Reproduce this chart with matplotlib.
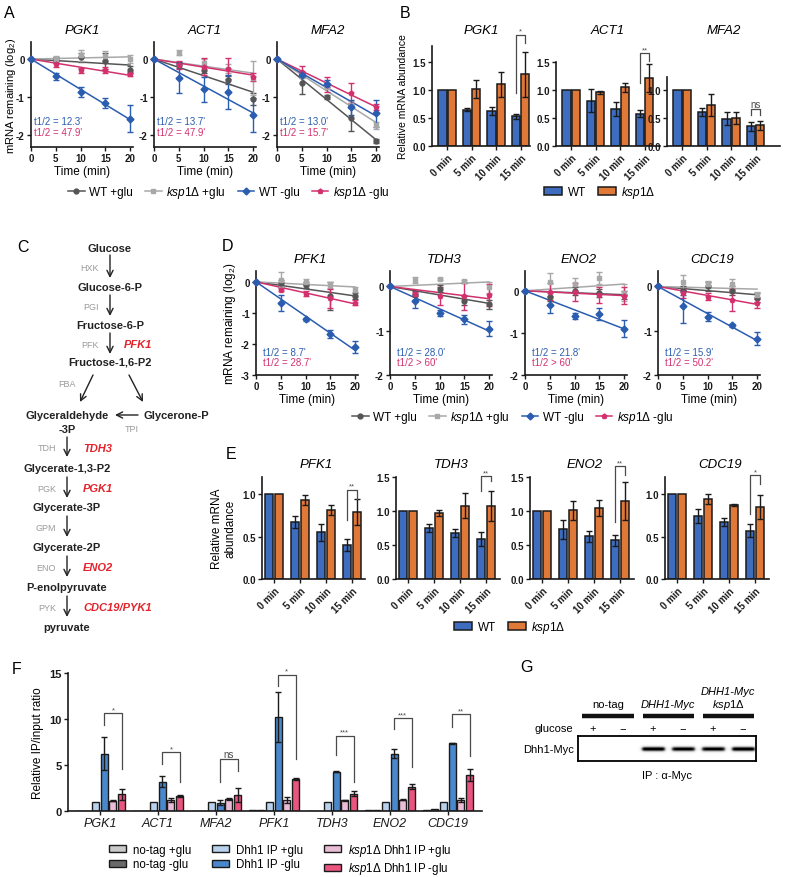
import numpy as np
import matplotlib
matplotlib.use('Agg')
import matplotlib.pyplot as plt
from matplotlib.lines import Line2D
from matplotlib.patches import Patch

plt.rcParams['font.family'] = ['Liberation Sans', 'DejaVu Sans']
plt.rcParams['mathtext.fontset'] = 'custom'
plt.rcParams['mathtext.rm'] = 'Liberation Sans'
plt.rcParams['mathtext.it'] = 'Liberation Sans:italic'
plt.rcParams['mathtext.bf'] = 'Liberation Sans:bold'
plt.rcParams['axes.unicode_minus'] = False

W, H = 790, 878

# ---------------- data ----------------
times = [0, 5, 10, 15, 20]

# A : mRNA decay
a_genes = ['PGK1', 'ACT1', 'MFA2']
a_wt_pos = [[0, -0.02, 0.05, -0.05, -0.28], [0, -0.15, -0.28, -0.55, -1.05], [0, -0.63, -1.0, -1.55, -2.17]]
a_wt_pos_err = [[0, 0.08, 0.12, 0.2, 0.1], [0, 0.08, 0.1, 0.1, 0.15], [0, 0.3, 0.05, 0.35, 0.05]]
a_ko_pos = [[0, 0.0, 0.1, 0.08, 0.0], [0, 0.17, -0.1, -0.25, -0.5], [0, -0.45, -0.75, -1.2, -1.75]]
a_ko_pos_err = [[0, 0.07, 0.15, 0.12, 0.1], [0, 0.06, 0.1, 0.12, 0.45], [0, 0.05, 0.05, 0.1, 0.1]]
a_wt_neg = [[0, -0.46, -0.88, -1.16, -1.57], [0, -0.5, -0.8, -0.88, -1.48], [0, -0.42, -0.65, -1.27, -1.43]]
a_wt_neg_err = [[0, 0.1, 0.13, 0.14, 0.35], [0, 0.4, 0.33, 0.45, 0.45], [0, 0.05, 0.1, 0.2, 0.35]]
a_ko_neg = [[0, -0.13, -0.3, -0.3, -0.4], [0, -0.15, -0.2, -0.25, -0.47], [0, -0.33, -0.68, -0.9, -1.27]]
a_ko_neg_err = [[0, 0.07, 0.07, 0.08, 0.06], [0, 0.1, 0.22, 0.28, 0.1], [0, 0.15, 0.2, 0.27, 0.08]]
a_half_wt = ["= 12.3'", "= 13.7'", "= 13.0'"]
a_half_ko = ["= 47.9'", "= 47.9'", "= 15.7'"]

# B : relative abundance
b_genes = ['PGK1', 'ACT1', 'MFA2']
b_wt = [[1, 0.65, 0.62, 0.53], [1, 0.81, 0.66, 0.58], [1, 0.61, 0.49, 0.35]]
b_wt_err = [[0, 0.03, 0.07, 0.05], [0, 0.2, 0.12, 0.06], [0, 0.07, 0.11, 0.08]]
b_ko = [[1, 1.02, 1.1, 1.28], [1, 0.96, 1.05, 1.21], [1, 0.73, 0.5, 0.37]]
b_ko_err = [[0, 0.16, 0.23, 0.4], [0, 0.03, 0.08, 0.25], [0, 0.19, 0.1, 0.08]]
b_sig = ['*', '**', 'ns']
b_br_top = [1.99, 1.66, 0.66]
b_br_left = [0.95, 1.12, 0.56]
b_br_right = [1.84, 1.51, 0.56]
time_labels = ['0 min', '5 min', '10 min', '15 min']

# D : glycolytic mRNA decay
d_genes = ['PFK1', 'TDH3', 'ENO2', 'CDC19']
d_wt_pos = [[0, -0.05, -0.1, -0.45, -0.45], [0, -0.2, -0.05, -0.32, -0.4], [0, -0.15, 0.0, -0.05, -0.1], [0, -0.1, 0.0, -0.1, -0.25]]
d_wt_pos_err = [[0, 0.1, 0.1, 0.45, 0.1], [0, 0.1, 0.08, 0.1, 0.1], [0, 0.1, 0.1, 0.1, 0.1], [0, 0.1, 0.1, 0.1, 0.1]]
d_ko_pos = [[0, 0.07, 0.0, -0.1, -0.25], [0, 0.15, 0.17, 0.12, -0.02], [0, 0.2, 0.15, 0.3, -0.05], [0, 0.1, 0.05, 0.05, -0.2]]
d_ko_pos_err = [[0, 0.25, 0.1, 0.1, 0.08], [0, 0.07, 0.03, 0.03, 0.12], [0, 0.22, 0.15, 0.15, 0.2], [0, 0.15, 0.08, 0.12, 0.07]]
d_wt_neg = [[0, -0.68, -1.2, -1.68, -2.1], [0, -0.33, -0.6, -0.74, -0.95], [0, -0.33, -0.6, -0.55, -0.9], [0, -0.45, -0.68, -0.88, -1.18]]
d_wt_neg_err = [[0, 0.27, 0.05, 0.14, 0.2], [0, 0.15, 0.06, 0.1, 0.18], [0, 0.2, 0.07, 0.15, 0.2], [0, 0.38, 0.1, 0.03, 0.15]]
d_ko_neg = [[0, -0.25, -0.38, -0.53, -0.68], [0, -0.17, -0.22, -0.22, -0.2], [0, -0.02, -0.03, -0.1, -0.12], [0, -0.15, -0.23, -0.3, -0.38]]
d_ko_neg_err = [[0, 0.05, 0.07, 0.3, 0.08], [0, 0.05, 0.2, 0.3, 0.25], [0, 0.2, 0.22, 0.2, 0.2], [0, 0.1, 0.08, 0.25, 0.1]]
d_half_wt = ["= 8.7'", "= 28.0'", "= 21.8'", "= 15.9'"]
d_half_ko = ["= 28.7'", "> 60'", "> 60'", "= 50.2'"]

# E : relative abundance, glycolytic genes
e_wt = [[1, 0.67, 0.55, 0.4], [1, 0.75, 0.68, 0.59], [1, 0.73, 0.63, 0.57], [1, 0.74, 0.67, 0.57]]
e_wt_err = [[0, 0.07, 0.1, 0.07], [0, 0.06, 0.06, 0.1], [0, 0.14, 0.08, 0.08], [0, 0.08, 0.05, 0.08]]
e_ko = [[1, 0.93, 0.81, 0.79], [1, 0.97, 1.08, 1.07], [1, 1.01, 1.04, 1.15], [1, 0.94, 0.87, 0.85]]
e_ko_err = [[0, 0.06, 0.06, 0.15], [0, 0.05, 0.18, 0.22], [0, 0.14, 0.12, 0.28], [0, 0.06, 0.01, 0.14]]
e_sig = ['**', '**', '**', '*']
e_br_top = [1.05, 1.51, 1.66, 1.22]
e_br_left = [0.69, 1.29, 0.84, 0.76]
e_br_right = [0.94, 1.44, 1.53, 1.12]

# F : Dhh1 RIP
f_genes = ['PGK1', 'ACT1', 'MFA2', 'PFK1', 'TDH3', 'ENO2', 'CDC19']
f_notag_pos = [0.05, 0.02, 0.0, 0.1, 0.05, 0.1, 0.1]
f_notag_neg = [0.05, 0.02, 0.0, 0.15, 0.05, 0.15, 0.2]
f_dhh1_pos = [1, 1, 1, 1, 1, 1, 1]
f_dhh1_neg = [6.25, 3.2, 0.9, 10.25, 4.25, 6.25, 7.35]
f_dhh1_neg_err = [1.8, 0.6, 0.3, 2.7, 0.05, 0.5, 0.05]
f_ko_pos = [1.1, 1.2, 1.3, 1.2, 1.15, 1.25, 1.2]
f_ko_pos_err = [0.05, 0.2, 0.15, 0.3, 0.05, 0.05, 0.2]
f_ko_neg = [1.8, 1.6, 1.75, 3.45, 1.9, 2.65, 3.95]
f_ko_neg_err = [0.6, 0.1, 0.75, 0.1, 0.25, 0.3, 0.65]
f_sig = ['*', '*', 'ns', '*', '***', '***', '**']
f_br_top = [10.65, 6.4, 5.65, 14.8, 8.2, 10.1, 10.5]
f_br_left = [9.4, 5.1, 3.15, 13.6, 6.1, 8.9, 9.1]
f_br_right = [4.6, 3.2, 4.35, 5.6, 3.2, 4.8, 6.0]

# G : western blot
gel_glucose = ['+', '\u2212', '+', '\u2212', '+', '\u2212']
gel_signal = [0, 0, 1.0, 0.95, 0.95, 1.0]

# ---------------- style ----------------
c_wt_pos, c_ko_pos, c_wt_neg, c_ko_neg = '#555555', '#a8a8a8', '#2a5db0', '#d3306e'
c_wt, c_ko = '#3e6dbf', '#e07838'
f_colors = ['#c9c9c9', '#6a6a6a', '#b9d1ec', '#4a88cc', '#e9bdd5', '#e9557f']
edge = '#1a1a1a'
ko_lbl = r'$\mathit{ksp1}\Delta$'
tick_fs = 7

fig = plt.figure(figsize=(W / 100, H / 100), dpi=100)


def px(x0, y0, x1, y1):
    return [x0 / W, 1 - y1 / H, (x1 - x0) / W, (y1 - y0) / H]


ov = fig.add_axes([0, 0, 1, 1])
ov.set_xlim(0, W)
ov.set_ylim(H, 0)
ov.axis('off')


def T(x, y, s, **kw):
    ov.text(x, y, s, **kw)


def clean(ax):
    for s in ['top', 'right']:
        ax.spines[s].set_visible(False)
    for s in ['left', 'bottom']:
        ax.spines[s].set_linewidth(1.2)
        ax.spines[s].set_color(edge)
    ax.tick_params(width=1, length=3, colors=edge, pad=1.5)


def decay(ax, series, ylim, yt):
    x = np.array(times, dtype=float)
    for vals, errs, col, mk in series:
        v = np.array(vals)
        slope = np.sum(x * v) / np.sum(x * x)
        ax.plot(x, slope * x, color=col, lw=1.1, zorder=2)
        ax.errorbar(x, v, yerr=errs, fmt=mk, ms=3.5, color=col, ecolor=col,
                    elinewidth=1, capsize=2, capthick=1, clip_on=False, zorder=3)
    ax.set_xlim(0, 20.6)
    ax.set_ylim(*ylim)
    ax.set_xticks(times, [str(t) for t in times], fontweight='bold', fontsize=tick_fs)
    ax.set_yticks(yt, [str(t) for t in yt], fontweight='bold', fontsize=tick_fs)
    ax.set_xlabel('Time (min)', fontsize=8.5, labelpad=1)
    clean(ax)


def bars(ax, wt, wte, ko, koe, ytop, yt, xr):
    x = np.arange(len(wt))
    ax.bar(x - 0.19, wt, 0.33, color=c_wt, edgecolor=edge, lw=1.1, zorder=2)
    ax.bar(x + 0.19, ko, 0.33, color=c_ko, edgecolor=edge, lw=1.1, zorder=2)
    for xs, v, e in [(x - 0.19, wt, wte), (x + 0.19, ko, koe)]:
        m = np.array(e) > 0
        ax.errorbar(xs[m], np.array(v)[m], yerr=np.array(e)[m], fmt='none', ecolor=edge,
                    elinewidth=1, capsize=2, capthick=1, zorder=3, clip_on=False)
    ax.set_xlim(*xr)
    ax.set_ylim(0, ytop)
    ax.set_xticks(x, time_labels, rotation=45, ha='right', rotation_mode='anchor',
                  fontweight='bold', fontsize=tick_fs)
    ax.set_yticks(yt, ['%.1f' % t for t in yt], fontweight='bold', fontsize=tick_fs)
    clean(ax)


def bracket(ax, x0, x1, top, b0, b1, lab):
    ax.plot([x0, x0, x1, x1], [b0, top, top, b1], color='#4a4a4a', lw=0.9, clip_on=False, zorder=4)
    ax.text((x0 + x1) / 2, top, lab, ha='center', va='bottom', fontsize=5.5 if lab != 'ns' else 7,
            color='#4a4a4a', clip_on=False)


# ---------------- panel A ----------------
a_pos = [(31, 133), (154, 256), (277, 379)]
for i, (x0, x1) in enumerate(a_pos):
    ax = fig.add_axes(px(x0, 43, x1, 148))
    decay(ax, [(a_wt_pos[i], a_wt_pos_err[i], c_wt_pos, 'o'),
               (a_ko_pos[i], a_ko_pos_err[i], c_ko_pos, 's'),
               (a_ko_neg[i], a_ko_neg_err[i], c_ko_neg, 'p'),
               (a_wt_neg[i], a_wt_neg_err[i], c_wt_neg, 'D')],
          (-2.32, 0.45), [0, -1, -2])
    ax.text(0.03, 0.245, 't1/2 ' + a_half_wt[i], transform=ax.transAxes, color=c_wt_neg, fontsize=7, va='center')
    ax.text(0.03, 0.145, 't1/2 ' + a_half_ko[i], transform=ax.transAxes, color=c_ko_neg, fontsize=7, va='center')
    T((x0 + x1) / 2, 31, a_genes[i], ha='center', va='center', fontsize=9.5, fontstyle='italic')
    if i == 0:
        ax.set_ylabel('mRNA remaining (log$_2$)', fontsize=8)
        ax.yaxis.set_label_coords(-0.13, 0.5)

dec_handles = [Line2D([0], [0], color=c, marker=m, ms=3.5, lw=1.1)
               for c, m in [(c_wt_pos, 'o'), (c_ko_pos, 's'), (c_wt_neg, 'D'), (c_ko_neg, 'p')]]
dec_labels = ['WT +glu', ko_lbl + ' +glu', 'WT -glu', ko_lbl + ' -glu']
fig.legend(dec_handles, dec_labels, loc='center', bbox_to_anchor=(229 / W, 1 - 193 / H), ncol=4,
           frameon=False, fontsize=8.5, handlelength=1.4, columnspacing=1.0, handletextpad=0.4)

# ---------------- panel B ----------------
b_pos = [(432, 530, 1.79, [0, 0.5, 1.0, 1.5]), (556, 660, 1.5, [0, 0.5, 1.0, 1.5]),
         (667, 780, 1.24, [0, 0.5, 1.0])]
for i, (x0, x1, ytop, yt) in enumerate(b_pos):
    ax = fig.add_axes(px(x0, 147 - (147 - 63) / 1.5 * ytop, x1, 147))
    xr = (-0.62, -0.62 + (x1 - x0) / 24.5)
    bars(ax, b_wt[i], b_wt_err[i], b_ko[i], b_ko_err[i], ytop, yt, xr)
    bracket(ax, 3 - 0.19, 3 + 0.19, b_br_top[i], b_br_left[i], b_br_right[i], b_sig[i])
    T((x0 + x1) / 2, 31, b_genes[i], ha='center', va='center', fontsize=9.5, fontstyle='italic')
    if i == 0:
        ax.set_ylabel('Relative mRNA abundance', fontsize=7.5, labelpad=3)

bar_handles = [Patch(facecolor=c_wt, edgecolor=edge, lw=1.1), Patch(facecolor=c_ko, edgecolor=edge, lw=1.1)]
fig.legend(bar_handles, ['WT', ko_lbl], loc='center', bbox_to_anchor=(600 / W, 1 - 193 / H), ncol=2,
           frameon=False, fontsize=8.5, handlelength=1.5, handleheight=0.6, columnspacing=1.0, handletextpad=0.5)

# ---------------- panel C ----------------
met = dict(ha='center', va='center', fontsize=8, fontweight='bold', color='#222222')
enz = dict(ha='right', va='center', fontsize=6.5, color='#9a9a9a')
red = dict(ha='left', va='center', fontsize=8, fontweight='bold', fontstyle='italic', color='#e3232b')
arr = dict(arrowstyle='->', lw=1.0, color='#222222', shrinkA=0, shrinkB=0, mutation_scale=11)

T(110, 249, 'Glucose', **met)
T(110, 288, 'Glucose-6-P', **met)
T(110, 326, 'Fructose-6-P', **met)
T(110, 363, 'Fructose-1,6-P2', **met)
T(67, 416, 'Glyceraldehyde', **met)
T(67, 430, '-3P', **met)
T(143, 416, 'Glycerone-P', ha='left', va='center', fontsize=8, fontweight='bold', color='#222222')
T(67, 469, 'Glycerate-1,3-P2', **met)
T(67, 508, 'Glycerate-3P', **met)
T(67, 548, 'Glycerate-2P', **met)
T(67, 588, 'P-enolpyruvate', **met)
T(67, 628, 'pyruvate', **met)

for y0, y1, e, r in [(256, 279, 'HXK', None), (296, 317, 'PGI', None), (334, 355, 'PFK', 'PFK1')]:
    ov.annotate('', xy=(110, y1), xytext=(110, y0), arrowprops=arr)
    T(99, (y0 + y1) / 2 + 1, e, **enz)
    if r:
        T(124, (y0 + y1) / 2 + 1, r, **red)
for y0, y1, e, r in [(438, 458, 'TDH', 'TDH3'), (478, 499, 'PGK', 'PGK1'), (517, 538, 'GPM', None),
                     (557, 578, 'ENO', 'ENO2'), (597, 618, 'PYK', 'CDC19/PYK1')]:
    ov.annotate('', xy=(67, y1), xytext=(67, y0), arrowprops=arr)
    T(56, (y0 + y1) / 2 + 1, e, **enz)
    if r:
        T(83, (y0 + y1) / 2 + 1, r, **red)
ov.annotate('', xy=(80, 403), xytext=(93, 376), arrowprops=arr)
ov.annotate('', xy=(143, 403), xytext=(129, 376), arrowprops=arr)
ov.annotate('', xy=(115, 416), xytext=(138, 416), arrowprops=arr)
T(76, 385, 'FBA', **enz)
T(132, 430, 'TPI', ha='center', va='center', fontsize=6.5, color='#9a9a9a')

# ---------------- panel D ----------------
d_pos = [(256, 358, (-3, 0.35), [0, -1, -2, -3]), (390, 492, (-2, 0.35), [0, -1, -2]),
         (525, 627, (-2, 0.47), [0, -1, -2]), (658, 760, (-2, 0.35), [0, -1, -2])]
for i, (x0, x1, yl, yt) in enumerate(d_pos):
    ax = fig.add_axes(px(x0, 272, x1, 376))
    decay(ax, [(d_wt_pos[i], d_wt_pos_err[i], c_wt_pos, 'o'),
               (d_ko_pos[i], d_ko_pos_err[i], c_ko_pos, 's'),
               (d_ko_neg[i], d_ko_neg_err[i], c_ko_neg, 'p'),
               (d_wt_neg[i], d_wt_neg_err[i], c_wt_neg, 'D')], yl, yt)
    ax.text(0.07, 0.225, 't1/2 ' + d_half_wt[i], transform=ax.transAxes, color=c_wt_neg, fontsize=7, va='center')
    ax.text(0.07, 0.125, 't1/2 ' + d_half_ko[i], transform=ax.transAxes, color=c_ko_neg, fontsize=7, va='center')
    T((x0 + x1) / 2 + 3, 260, d_genes[i], ha='center', va='center', fontsize=9.5, fontstyle='italic')
    if i == 0:
        ax.set_ylabel('mRNA remaining (log$_2$)', fontsize=8.5, labelpad=2)

fig.legend(dec_handles, dec_labels, loc='center', bbox_to_anchor=(513 / W, 1 - 418 / H), ncol=4,
           frameon=False, fontsize=8.5, handlelength=1.4, columnspacing=1.0, handletextpad=0.4)

# ---------------- panel E ----------------
e_pos = [(262, 365, 1.2, [0, 0.5, 1.0]), (396, 500, 1.5, [0, 0.5, 1.0, 1.5]),
         (530, 634, 1.5, [0, 0.5, 1.0, 1.5]), (665, 769, 1.2, [0, 0.5, 1.0])]
for i, (x0, x1, ytop, yt) in enumerate(e_pos):
    ax = fig.add_axes(px(x0, 478, x1, 580))
    xr = (-0.46, -0.46 + (x1 - x0) / 26)
    bars(ax, e_wt[i], e_wt_err[i], e_ko[i], e_ko_err[i], ytop, yt, xr)
    bracket(ax, 3 - 0.19, 3 + 0.19, e_br_top[i], e_br_left[i], e_br_right[i], e_sig[i])
    T((x0 + x1) / 2 + 3, 465, d_genes[i], ha='center', va='center', fontsize=9.5, fontstyle='italic')
    if i == 0:
        ax.set_ylabel('Relative mRNA\nabundance', fontsize=8.5, labelpad=4)

fig.legend(bar_handles, ['WT', ko_lbl], loc='center', bbox_to_anchor=(510 / W, 1 - 628 / H), ncol=2,
           frameon=False, fontsize=8.5, handlelength=1.5, handleheight=0.6, columnspacing=1.0, handletextpad=0.5)

# ---------------- panel F ----------------
axf = fig.add_axes(px(68, 674, 482, 812))
xg = np.arange(len(f_genes))
f_series = [(f_notag_pos, None), (f_notag_neg, None), (f_dhh1_pos, None),
            (f_dhh1_neg, f_dhh1_neg_err), (f_ko_pos, f_ko_pos_err), (f_ko_neg, f_ko_neg_err)]
for k, (vals, errs) in enumerate(f_series):
    xs = xg + (k - 2.5) * 0.15
    axf.bar(xs, vals, 0.12, color=f_colors[k], edgecolor=edge, lw=1.0, zorder=2)
    if errs is not None:
        axf.errorbar(xs, vals, yerr=errs, fmt='none', ecolor=edge, elinewidth=1,
                     capsize=2, capthick=1, zorder=3)
for i in range(len(f_genes)):
    bracket(axf, xg[i] + 0.5 * 0.15, xg[i] + 2.5 * 0.15, f_br_top[i], f_br_left[i], f_br_right[i], f_sig[i])
axf.set_xlim(-0.55, 6.59)
axf.set_ylim(0, 15)
axf.set_xticks(xg, f_genes, fontstyle='italic', fontsize=9)
axf.set_yticks([0, 5, 10, 15], ['0', '5', '10', '15'], fontweight='bold', fontsize=8)
axf.set_ylabel('Relative IP/input ratio', fontsize=8.5, labelpad=4)
clean(axf)

f_handles = [Patch(facecolor=c, edgecolor=edge, lw=1.0) for c in f_colors]
f_labels = ['no-tag +glu', 'no-tag -glu', 'Dhh1 IP +glu', 'Dhh1 IP -glu',
            ko_lbl + ' Dhh1 IP +glu', ko_lbl + ' Dhh1 IP -glu']
fig.legend(f_handles, f_labels, loc='center', bbox_to_anchor=(280 / W, 1 - 860 / H), ncol=3,
           frameon=False, fontsize=8.3, handlelength=1.5, handleheight=0.6, columnspacing=1.8,
           handletextpad=0.6, labelspacing=0.25)

# ---------------- panel G ----------------
lane_x = [593 + 30 * k for k in range(6)]
T(608, 705, 'no-tag', ha='center', va='center', fontsize=8)
T(668, 705, 'DHH1-Myc', ha='center', va='center', fontsize=8, fontstyle='italic')
T(728, 692, 'DHH1-Myc', ha='center', va='center', fontsize=8, fontstyle='italic')
T(728, 705, ko_lbl, ha='center', va='center', fontsize=8)
for xa, xb in [(582, 634), (643, 694), (703, 754)]:
    ov.plot([xa, xb], [717, 717], color='#111111', lw=3.2, solid_capstyle='butt')
T(573, 729, 'glucose', ha='right', va='center', fontsize=8)
for xl, g in zip(lane_x, gel_glucose):
    T(xl, 729, g, ha='center', va='center', fontsize=8)
T(574, 750, 'Dhh1-Myc', ha='right', va='center', fontsize=8)
T(667, 776, 'IP : \u03b1-Myc', ha='center', va='center', fontsize=8)

axg = fig.add_axes(px(578, 737, 756, 762))
gx = np.arange(178)[None, :]
gy = np.arange(25)[:, None]
img = np.zeros((25, 178))
for xl, s in zip(lane_x, gel_signal):
    c = xl - 578
    img += s * np.exp(-((gy - 12.5) / 2.4) ** 2) / (1 + np.exp((np.abs(gx - c) - 11.5) / 1.0))
axg.imshow(np.clip(img * 1.1, 0, 1), cmap='Greys', vmin=0, vmax=1, aspect='auto', interpolation='bilinear')
axg.set_xticks([])
axg.set_yticks([])
for s in axg.spines.values():
    s.set_linewidth(1.3)

# ---------------- panel letters ----------------
for lab, x, y in [('A', 4, 13), ('B', 400, 13), ('C', 17, 248), ('D', 222, 247),
                  ('E', 226, 455), ('F', 12, 670), ('G', 520, 668)]:
    T(x, y, lab, ha='left', va='center', fontsize=11.5)

fig.savefig('out.png', dpi=100)
